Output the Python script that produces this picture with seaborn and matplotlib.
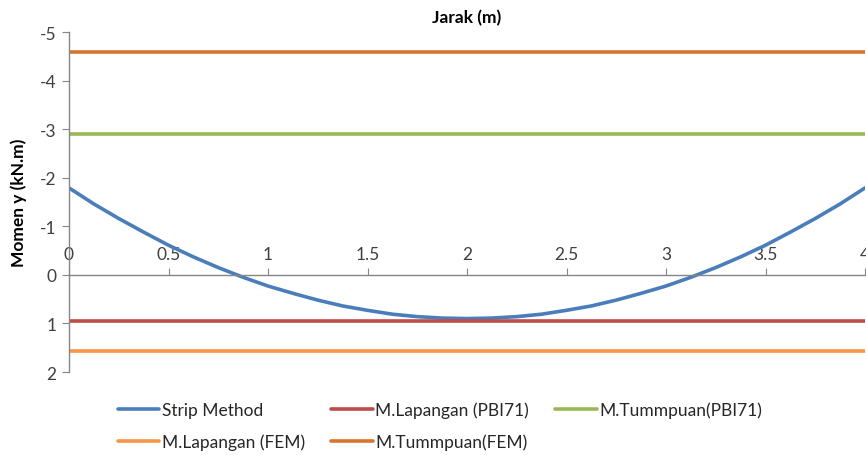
import numpy as np
import pandas as pd
import matplotlib
matplotlib.use("Agg")
import matplotlib.pyplot as plt
import seaborn as sns

# ---- data ----
x_strip = [0, 0.125, 0.25, 0.375, 0.5, 0.625, 0.75, 0.875, 1.0, 1.125, 1.25, 1.375, 1.5, 1.625, 1.75, 1.875,
           2.0, 2.125, 2.25, 2.375, 2.5, 2.625, 2.75, 2.875, 3.0, 3.125, 3.25, 3.375, 3.5, 3.625, 3.75, 3.875, 4.0]
m_strip = [-1.79, -1.46, -1.16, -0.88, -0.61, -0.37, -0.15, 0.05, 0.23, 0.38, 0.52, 0.64, 0.73, 0.81, 0.86, 0.89,
           0.90, 0.89, 0.86, 0.81, 0.73, 0.64, 0.52, 0.38, 0.23, 0.05, -0.15, -0.37, -0.61, -0.88, -1.16, -1.46, -1.79]
x_const = [0, 4]
m_lap_pbi = 0.95
m_tum_pbi = -2.89
m_lap_fem = 1.57
m_tum_fem = -4.58
series_names = ["Strip Method", "M.Lapangan (PBI71)", "M.Tummpuan(PBI71)",
                "M.Lapangan (FEM)", "M.Tummpuan(FEM)"]
colors = ["#4A7EBB", "#BE4B48", "#98B954", "#F79646", "#D8742F"]
x_ticks = [0, 0.5, 1, 1.5, 2, 2.5, 3, 3.5, 4]
x_tick_labels = ["0", "0.5", "1", "1.5", "2", "2.5", "3", "3.5", "4"]
y_ticks = [-5, -4, -3, -2, -1, 0, 1, 2]

rows = []
for xv, yv in zip(x_strip, m_strip):
    rows.append((series_names[0], xv, yv))
for name, val in zip(series_names[1:], [m_lap_pbi, m_tum_pbi, m_lap_fem, m_tum_fem]):
    for xv in x_const:
        rows.append((name, xv, val))
df = pd.DataFrame(rows, columns=["series", "x", "m"])

sns.set_style("white")
plt.rcParams["font.family"] = ["Lato", "DejaVu Sans"]

fig = plt.figure(figsize=(8.66, 4.56), dpi=100)
ax = fig.add_axes([69 / 866, 1 - 373 / 456, (865 - 69) / 866, (373 - 33) / 456])

sns.lineplot(data=df, x="x", y="m", hue="series", hue_order=series_names,
             palette=dict(zip(series_names, colors)), linewidth=2.6, ax=ax,
             legend=False, sort=False)

ax.set_xlim(0, 4)
ax.set_ylim(2, -5)
ax.set_xticks(x_ticks)
ax.set_xticklabels(x_tick_labels)
ax.set_yticks(y_ticks)
ax.set_yticklabels([str(v) for v in y_ticks])

for s in ["right", "bottom"]:
    ax.spines[s].set_visible(False)
ax.spines["top"].set_position(("data", 0))
ax.spines["top"].set_color("#868686")
ax.spines["left"].set_color("#868686")
ax.spines["top"].set_linewidth(1)
ax.spines["left"].set_linewidth(1)
ax.xaxis.set_ticks_position("top")
ax.tick_params(axis="x", direction="out", length=5, color="#868686",
               labelsize=12.5, labelcolor="#404040", pad=4)
ax.tick_params(axis="y", direction="out", length=5, color="#868686",
               labelsize=12.5, labelcolor="#404040", pad=4, left=True)
ax.grid(False)

ax.set_xlabel("")
ax.set_ylabel("Momen y (kN.m)", fontsize=12.5, fontweight="bold", color="black", labelpad=9)
ax.set_title("Jarak (m)", fontsize=12.5, fontweight="bold", color="black", pad=7)

handles = [plt.Line2D([], [], color=c, lw=2.6) for c in colors]
order = [0, 3, 1, 4, 2]
leg = fig.legend([handles[i] for i in order], [series_names[i] for i in order],
                 ncol=3, loc="upper left", bbox_to_anchor=(0.136, 0.118),
                 frameon=False, fontsize=12.5, handlelength=2.4, handletextpad=0.15,
                 columnspacing=1.5, labelspacing=0.9, borderaxespad=0, borderpad=0)
for t in leg.get_texts():
    t.set_color("#262626")

fig.savefig("out.png", dpi=100)
